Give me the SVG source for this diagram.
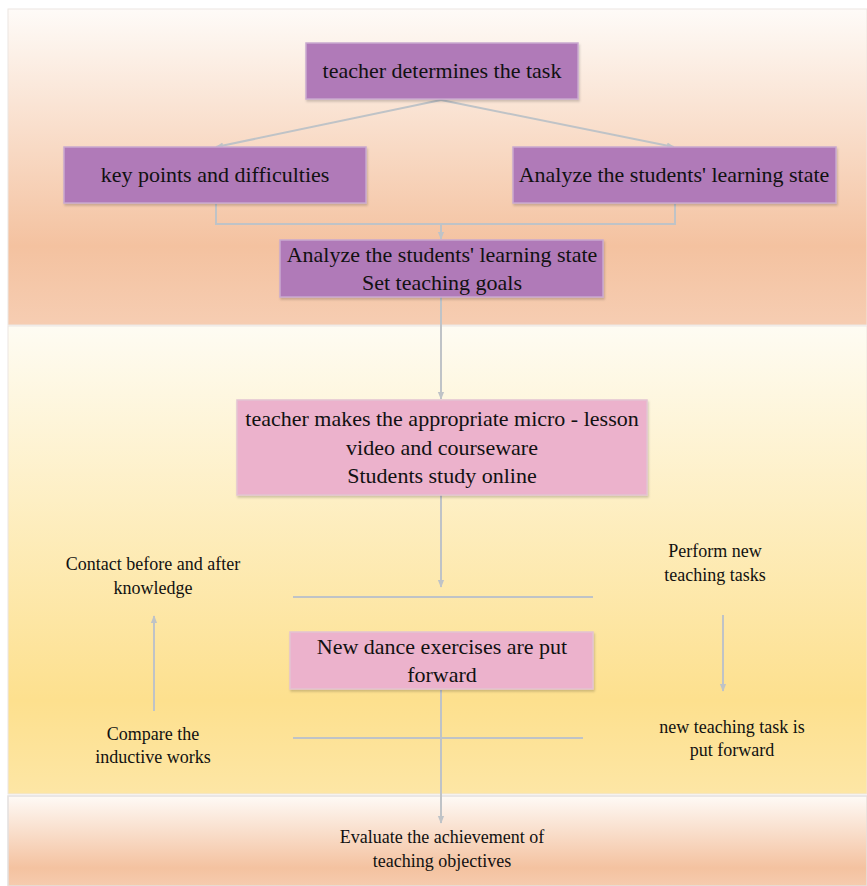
<svg xmlns="http://www.w3.org/2000/svg" width="867" height="886" viewBox="0 0 867 886">
<defs>
<linearGradient id="gTop" x1="0" y1="0" x2="0" y2="1">
<stop offset="0" stop-color="#fefbf8"/>
<stop offset="0.75" stop-color="#f4c2a0"/>
<stop offset="1" stop-color="#f6cdb2"/>
</linearGradient>
<linearGradient id="gMid" x1="0" y1="0" x2="0" y2="1">
<stop offset="0" stop-color="#fefcf3"/>
<stop offset="0.8" stop-color="#fde08e"/>
<stop offset="1" stop-color="#fde6a5"/>
</linearGradient>
<linearGradient id="gBot" x1="0" y1="0" x2="0" y2="1">
<stop offset="0" stop-color="#fefaf6"/>
<stop offset="0.8" stop-color="#f4c2a0"/>
<stop offset="1" stop-color="#f6cbae"/>
</linearGradient>
<marker id="arr" viewBox="0 0 10 10" refX="9" refY="5" markerWidth="8" markerHeight="8" orient="auto" markerUnits="userSpaceOnUse">
<path d="M0,1 L10,5 L0,9 z" fill="#bfc3c7"/>
</marker>
<filter id="sh" x="-5%" y="-5%" width="110%" height="120%">
<feDropShadow dx="1" dy="2" stdDeviation="1" flood-color="#000" flood-opacity="0.18"/>
</filter>
</defs>
<style>
.box{stroke:#c9a9cf;stroke-width:1.5;filter:url(#sh)}
.pur{fill:#b07ab8}
.pink{fill:#ecb2cc;stroke:#e3c3d2}
.t{font-family:"Liberation Serif","Times New Roman",serif;font-size:22px;fill:#111;text-anchor:middle}
.s{font-family:"Liberation Serif","Times New Roman",serif;font-size:18px;fill:#111;text-anchor:middle}
.c{stroke:#bfc3c7;stroke-width:2;fill:none}
</style>
<rect width="867" height="886" fill="#ffffff"/>
<g id="background">
<rect x="8" y="9" width="859" height="316" fill="url(#gTop)" stroke="#ece6e2" stroke-width="1"/>
<rect x="8" y="326" width="859" height="468" fill="url(#gMid)" stroke="#ece6e2" stroke-width="1"/>
<rect x="8" y="796" width="859" height="90" fill="url(#gBot)" stroke="#e4e0de" stroke-width="1.5"/>
</g>
<g id="connectors">
<line class="c" x1="441" y1="100" x2="216" y2="147" marker-end="url(#arr)"/>
<line class="c" x1="441" y1="100" x2="674" y2="147" marker-end="url(#arr)"/>
<polyline class="c" points="216,204 216,224 675,224 675,204"/>
<line class="c" x1="441" y1="224" x2="441" y2="239" marker-end="url(#arr)"/>
<line class="c" x1="441" y1="297" x2="441" y2="399" marker-end="url(#arr)"/>
<line class="c" x1="441" y1="495" x2="441" y2="587" marker-end="url(#arr)"/>
<line class="c" x1="293" y1="597" x2="593" y2="597"/>
<line class="c" x1="441" y1="690" x2="441" y2="823" marker-end="url(#arr)"/>
<line class="c" x1="293" y1="738" x2="583" y2="738"/>
<line class="c" x1="154" y1="711" x2="154" y2="616" marker-end="url(#arr)"/>
<line class="c" x1="723" y1="615" x2="723" y2="691" marker-end="url(#arr)"/>
</g>
<g id="n1">
<rect class="box pur" x="306" y="43" width="272" height="56"/>
<text class="t" x="442" y="78">teacher determines the task</text>
</g>
<g id="n2">
<rect class="box pur" x="64" y="147" width="302" height="56"/>
<text class="t" x="215" y="182">key points and difficulties</text>
</g>
<g id="n3">
<rect class="box pur" x="513" y="147" width="323" height="56"/>
<text class="t" x="674" y="182">Analyze the students' learning state</text>
</g>
<g id="n4">
<rect class="box pur" x="280" y="240" width="323" height="57"/>
<text class="t" x="442" y="262">Analyze the students' learning state</text>
<text class="t" x="442" y="290">Set teaching goals</text>
</g>
<g id="n5">
<rect class="box pink" x="237" y="400" width="410" height="95"/>
<text class="t" x="442" y="426">teacher makes the appropriate micro - lesson</text>
<text class="t" x="442" y="455">video and courseware</text>
<text class="t" x="442" y="483">Students study online</text>
</g>
<g id="n6">
<rect class="box pink" x="290" y="632" width="303" height="57"/>
<text class="t" x="442" y="654">New dance exercises are put</text>
<text class="t" x="442" y="682">forward</text>
</g>
<g id="l1">
<text class="s" x="153" y="570">Contact before and after</text>
<text class="s" x="153" y="594">knowledge</text>
</g>
<g id="l2">
<text class="s" x="153" y="740">Compare the</text>
<text class="s" x="153" y="763">inductive works</text>
</g>
<g id="l3">
<text class="s" x="715" y="557">Perform new</text>
<text class="s" x="715" y="581">teaching tasks</text>
</g>
<g id="l4">
<text class="s" x="732" y="733">new teaching task is</text>
<text class="s" x="732" y="756">put forward</text>
</g>
<g id="l5">
<text class="s" x="442" y="843">Evaluate the achievement of</text>
<text class="s" x="442" y="867">teaching objectives</text>
</g>
</svg>
